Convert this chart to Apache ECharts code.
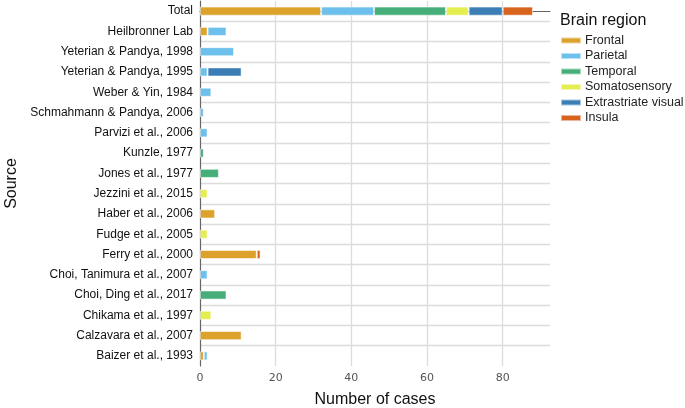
<!DOCTYPE html>
<html>
<head>
<meta charset="utf-8">
<script src="https://cdn.jsdelivr.net/npm/echarts@6/dist/echarts.min.js"></script>
<style>html,body{margin:0;padding:0;background:#fff}#c{width:685px;height:408px}</style>
</head>
<body>
<div id="c"></div>
<script>
// Categories, top to bottom
var sources = ["Total","Heilbronner Lab","Yeterian & Pandya, 1998","Yeterian & Pandya, 1995","Weber & Yin, 1984","Schmahmann & Pandya, 2006","Parvizi et al., 2006","Kunzle, 1977","Jones et al., 1977","Jezzini et al., 2015","Haber et al., 2006","Fudge et al., 2005","Ferry et al., 2000","Choi, Tanimura et al., 2007","Choi, Ding et al., 2017","Chikama et al., 1997","Calzavara et al., 2007","Baizer et al., 1993"];
var regions = ["Frontal","Parietal","Temporal","Somatosensory","Extrastriate visual","Insula"];
var frontal      = [32,2,0,0,0,0,0,0,0,0,4,0,15,0,0,0,11,1];
var parietal     = [14,5,9,2,3,1,2,0,0,0,0,0,0,2,0,0,0,1];
var temporal     = [19,0,0,0,0,0,0,1,5,0,0,0,0,0,7,0,0,0];
var somato       = [6,0,0,0,0,0,0,0,0,2,0,2,0,0,0,3,0,0];
var extrastriate = [9,0,0,9,0,0,0,0,0,0,0,0,0,0,0,0,0,0];
var insula       = [8,0,0,0,0,0,0,0,0,0,0,0,1,0,0,0,0,0];
var xTicks = [0,20,40,60,80];

var colors = ["#DDA22C","#6EC0EC","#46AE78","#E4EE50","#3B7EB6","#D8631D"];
var values = [frontal, parietal, temporal, somato, extrastriate, insula];

var series = regions.map(function(name, i){
  return {
    name: name, type: 'bar', stack: 'all', yAxisIndex: 0,
    barWidth: '45%',
    itemStyle: {color: colors[i], borderColor: 'rgba(255,255,255,0.55)', borderWidth: 1},
    data: values[i].map(function(v){ return v === 0 ? null : v; })
  };
});

var chart = echarts.init(document.getElementById('c'));
chart.setOption({
  animation: false,
  title: {text: 'Brain region', left: 555, top: 8, textStyle: {fontFamily: 'Liberation Sans', fontSize: 16, fontWeight: 'normal', color: '#111'}},
  legend: {
    orient: 'vertical', left: 560, top: 34, padding: 0, itemWidth: 20, itemHeight: 6, itemGap: 2.5,
    icon: 'rect',
    textStyle: {fontFamily: 'Liberation Sans', fontSize: 12.5, color: '#222', padding: [0,0,0,-1]},
    data: regions
  },
  grid: {left: 200, right: 135, top: 1, bottom: 42, containLabel: false, outerBoundsMode: 'none'},
  xAxis: {
    type: 'value', min: 0, max: 92.5, interval: 20,
    name: 'Number of cases', nameLocation: 'middle', nameGap: 26,
    nameTextStyle: {fontFamily: 'Liberation Sans', fontSize: 16, color: '#111'},
    axisLine: {show: true, lineStyle: {color: '#666', width: 1.2}},
    axisTick: {show: false},
    axisLabel: {fontFamily: 'DejaVu Sans', fontSize: 11, color: '#555', margin: 7,
      showMaxLabel: false,
      formatter: function(v){ return xTicks.indexOf(v) >= 0 ? String(v) : ''; }},
    splitLine: {show: true, showMinLine: false, showMaxLine: false, lineStyle: {color: '#dcdcdc', width: 1.3}}
  },
  yAxis: [{
    type: 'category', data: sources, inverse: true,
    name: 'Source', nameLocation: 'middle', nameGap: 170, nameRotate: 90,
    nameTextStyle: {fontFamily: 'Liberation Sans', fontSize: 16, color: '#111'},
    axisLine: {show: true, lineStyle: {color: '#666', width: 1.2}},
    axisTick: {show: false},
    axisLabel: {fontFamily: 'Liberation Sans', fontSize: 12, color: '#111', margin: 7},
    splitLine: {show: false}
  }, {
    type: 'value', min: -0.5, max: 17.5, interval: 1, inverse: true, position: 'left',
    axisLine: {show: false}, axisTick: {show: false}, axisLabel: {show: false},
    splitLine: {show: true, showMinLine: false, showMaxLine: false, lineStyle: {color: '#dcdcdc', width: 1.3}}
  }],
  series: series
});
</script>
</body>
</html>
